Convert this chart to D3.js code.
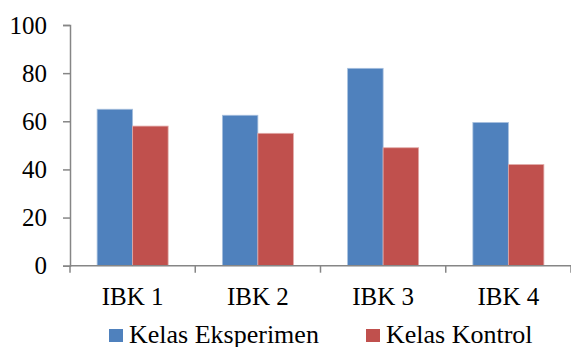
<!DOCTYPE html>
<html>
<head>
<meta charset="utf-8">
<script src="https://cdn.jsdelivr.net/npm/d3@7"></script>
<style>
  html, body { margin: 0; padding: 0; background: #fff; }
</style>
</head>
<body>
<svg id="chart" width="571" height="347"></svg>
<script>
// Scores per indicator (IBK) for the two classes
const categories = ["IBK 1", "IBK 2", "IBK 3", "IBK 4"];
const seriesNames = ["Kelas Eksperimen", "Kelas Kontrol"];
const eksperimen = [65, 62.5, 82, 59.5];
const kontrol = [58, 55, 49, 42];
const yTicks = [0, 20, 40, 60, 80, 100];
const colors = ["#4F81BD", "#C0504D"];
const strokes = ["#A7C0DE", "#E0A9A7"];

const fontFamily = "'Liberation Serif'";

const svg = d3.select("#chart");
const plotLeft = 70, plotRight = 571, plotTop = 25, plotBottom = 265.7;

const x = d3.scaleBand().domain(categories).range([plotLeft, plotRight]).padding(0);
const x1 = d3.scaleBand().domain(seriesNames).range([0, x.bandwidth()])
  .paddingInner(0).paddingOuter(0.764);
const y = d3.scaleLinear().domain([0, 100]).range([plotBottom, plotTop]);

const axisColor = "#868686";

// bars
const rows = categories.map((c, i) => ({ c, vals: [eksperimen[i], kontrol[i]] }));
const g = svg.append("g");
rows.forEach(r => {
  r.vals.forEach((v, s) => {
    g.append("rect")
      .attr("x", x(r.c) + x1(seriesNames[s]))
      .attr("y", y(v))
      .attr("width", x1.bandwidth())
      .attr("height", y(0) - y(v))
      .attr("fill", colors[s])
      .attr("stroke", strokes[s])
      .attr("stroke-width", 0.8);
  });
});

// y axis
const yAxis = d3.axisLeft(y).tickValues(yTicks).tickSize(7).tickPadding(16);
const ya = svg.append("g").attr("transform", `translate(${plotLeft},0)`).call(yAxis)
  .attr("font-family", null).attr("font-size", null);
ya.select(".domain").attr("stroke", axisColor).attr("stroke-width", 1.5);
ya.selectAll(".tick line").attr("stroke", axisColor).attr("stroke-width", 1.5);
ya.selectAll(".tick text")
  .style("font-family", fontFamily).style("font-size", "25px").attr("fill", "#000");

// x axis
const xa = svg.append("g").attr("transform", `translate(0,${plotBottom})`);
xa.append("line").attr("x1", plotLeft).attr("x2", plotRight)
  .attr("stroke", axisColor).attr("stroke-width", 1.5);
const xTickPos = categories.map(c => x(c)).concat([x(categories[categories.length - 1]) + x.bandwidth()]);
xTickPos.forEach(p => {
  xa.append("line").attr("x1", p).attr("x2", p).attr("y1", 0).attr("y2", 7)
    .attr("stroke", axisColor).attr("stroke-width", 1.5);
});
categories.forEach(c => {
  xa.append("text")
    .attr("x", x(c) + x.bandwidth() / 2)
    .attr("y", 39)
    .attr("text-anchor", "middle")
    .style("font-family", fontFamily)
    .style("font-size", "25px")
    .text(c);
});

// legend
const legendX = [109, 366];
seriesNames.forEach((n, i) => {
  const lg = svg.append("g").attr("transform", `translate(${legendX[i]},0)`);
  lg.append("rect").attr("x", 0).attr("y", 329).attr("width", 14).attr("height", 13)
    .attr("fill", colors[i]);
  lg.append("text").attr("x", 20).attr("y", 343)
    .style("font-family", fontFamily).style("font-size", "26px").text(n);
});
</script>
</body>
</html>
